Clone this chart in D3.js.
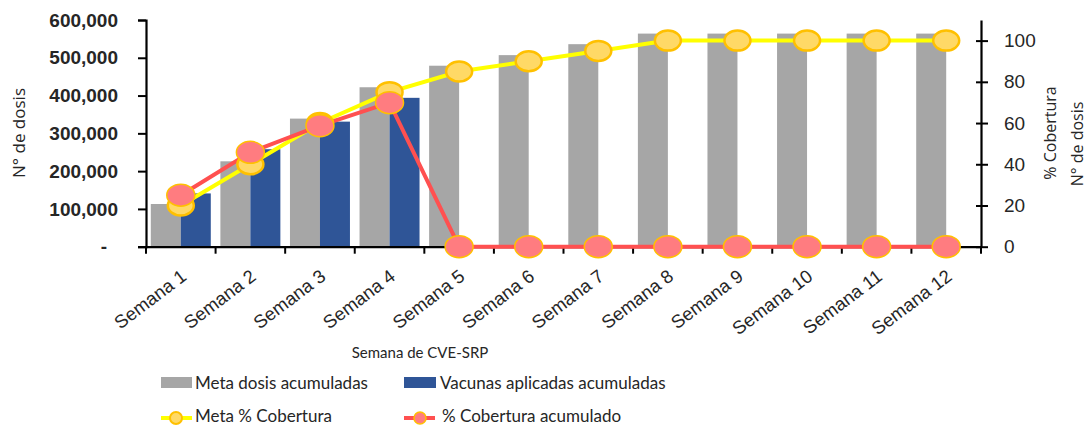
<!DOCTYPE html>
<html>
<head>
<meta charset="utf-8">
<script src="https://cdn.jsdelivr.net/npm/d3@7"></script>
<style>
  html, body { margin: 0; padding: 0; background: #fff; }
  svg { display: block; font-family: "Open Sans", "Noto Sans", sans-serif; }
</style>
</head>
<body>
<svg id="chart" width="1088" height="427"></svg>
<script>
// ---- data ----
const categories = ["Semana 1","Semana 2","Semana 3","Semana 4","Semana 5","Semana 6","Semana 7","Semana 8","Semana 9","Semana 10","Semana 11","Semana 12"];
const metaDosis = [113000, 226000, 339000, 422000, 479000, 507000, 536000, 564000, 564000, 564000, 564000, 564000];
const vacunasAplicadas = [141000, 258000, 331000, 394000, 0, 0, 0, 0, 0, 0, 0, 0];
const metaCobertura = [20, 40, 60, 75, 85, 90, 95, 100, 100, 100, 100, 100];
const coberturaAcum = [25, 45.8, 58.7, 69.9, 0, 0, 0, 0, 0, 0, 0, 0];
const leftTicks = [0, 100000, 200000, 300000, 400000, 500000, 600000];
const rightTicks = [0, 20, 40, 60, 80, 100];

// ---- layout ----
const svg = d3.select("#chart");
const L = 146, R = 981, T = 20, B = 246.7;
const textColor = "#262626";

const x = d3.scaleBand().domain(categories).range([L, R]).padding(0);
const xs = d3.scaleBand().domain(["meta", "vac"]).range([0, x.bandwidth()]).paddingOuter(0.16).paddingInner(0);
const yL = d3.scaleLinear().domain([0, 600000]).range([B, T]);
const yR = d3.scaleLinear().domain([0, 110]).range([B, T]);

// bars
const g = svg.append("g");
g.selectAll("rect.meta").data(metaDosis).join("rect")
  .attr("x", (d, i) => x(categories[i]) + xs("meta"))
  .attr("width", xs.bandwidth())
  .attr("y", d => yL(d))
  .attr("height", d => yL(0) - yL(d))
  .attr("fill", "#A6A6A6");
g.selectAll("rect.vac").data(vacunasAplicadas).join("rect")
  .attr("x", (d, i) => x(categories[i]) + xs("vac"))
  .attr("width", xs.bandwidth())
  .attr("y", d => yL(d))
  .attr("height", d => yL(0) - yL(d))
  .attr("fill", "#2F5597");

// axes
const fmtL = d => d === 0 ? "-" : d3.format(",")(d);
const axL = svg.append("g").attr("transform", `translate(${L},0)`)
  .call(d3.axisLeft(yL).tickValues(leftTicks).tickFormat(fmtL).tickSize(8).tickPadding(20));
axL.select(".domain").attr("stroke", "#000").attr("stroke-width", 2.2);
axL.selectAll(".tick line").attr("stroke", "#000").attr("stroke-width", 2);
axL.selectAll(".tick text").attr("fill", textColor).style("font-size", "19px").style("font-weight", "600")
  .attr("x", function(d) { return d === 0 ? -39 : -28; });

const axB = svg.append("g").attr("transform", `translate(0,${B})`)
  .call(d3.axisBottom(x).tickSize(0).tickSizeOuter(0));
axB.select(".domain").attr("stroke", "#000").attr("stroke-width", 2.2);
axB.selectAll(".tick line").remove();
// category boundary ticks
svg.append("g").selectAll("line").data(d3.range(categories.length + 1)).join("line")
  .attr("x1", i => L + i * x.step()).attr("x2", i => L + i * x.step())
  .attr("y1", B).attr("y2", B + 7)
  .attr("stroke", "#000").attr("stroke-width", 2);
axB.selectAll(".tick text")
  .attr("fill", textColor)
  .style("font-size", "18.5px")
  .attr("text-anchor", "end")
  .attr("y", 0)
  .attr("dy", "0.35em")
  .attr("transform", "translate(3,27) rotate(-37)");

const axR = svg.append("g").attr("transform", `translate(${R},0)`)
  .call(d3.axisRight(yR).tickValues(rightTicks).tickSize(7).tickPadding(16).tickSizeOuter(0));
axR.select(".domain").attr("stroke", "#000").attr("stroke-width", 2.2);
axR.selectAll(".tick line").attr("stroke", "#000").attr("stroke-width", 2).attr("x1", -5);
axR.selectAll(".tick text").attr("fill", textColor).style("font-size", "19px");

// lines
const cx = i => x(categories[i]) + x.bandwidth() / 2;
const lineY = d3.line().x((d, i) => cx(i)).y(d => yR(d));
svg.append("path").datum(metaCobertura).attr("d", lineY)
  .attr("fill", "none").attr("stroke", "#FFFF00").attr("stroke-width", 4);
svg.append("path").datum(coberturaAcum).attr("d", lineY)
  .attr("fill", "none").attr("stroke", "#FF5050").attr("stroke-width", 4);
svg.append("g").selectAll("ellipse").data(metaCobertura).join("ellipse")
  .attr("cx", (d, i) => cx(i)).attr("cy", d => yR(d))
  .attr("rx", 13).attr("ry", 10)
  .attr("fill", "#FFD966").attr("stroke", "#FFC000").attr("stroke-width", 2.5);
svg.append("g").selectAll("ellipse").data(coberturaAcum).join("ellipse")
  .attr("cx", (d, i) => cx(i)).attr("cy", d => yR(d))
  .attr("rx", 14).attr("ry", 11)
  .attr("fill", "#FF7C80").attr("stroke", "#FFC000").attr("stroke-width", 1.5);

// axis titles
svg.append("text").attr("x", 420).attr("y", 358).attr("text-anchor", "middle")
  .attr("fill", textColor).style("font-family", "Lato, 'Open Sans', sans-serif").style("font-size", "15px").text("Semana de CVE-SRP");
svg.append("text").attr("transform", "translate(25,133) rotate(-90)").attr("text-anchor", "middle")
  .attr("fill", textColor).style("font-size", "17px").text("N° de dosis");
svg.append("text").attr("transform", "translate(1056,133) rotate(-90)").attr("text-anchor", "middle")
  .attr("fill", textColor).style("font-size", "16px").text("% Cobertura");
svg.append("text").attr("transform", "translate(1083,144) rotate(-90)").attr("text-anchor", "middle")
  .attr("fill", textColor).style("font-size", "16px").text("N° de dosis");

// legend
const leg = svg.append("g").style("font-size", "17px").style("font-family", "Lato, 'Open Sans', sans-serif").attr("fill", textColor);
leg.append("rect").attr("x", 161).attr("y", 377).attr("width", 31).attr("height", 11).attr("fill", "#A6A6A6");
leg.append("text").attr("x", 195).attr("y", 389).text("Meta dosis acumuladas");
leg.append("rect").attr("x", 404).attr("y", 377).attr("width", 32).attr("height", 11).attr("fill", "#2F5597");
leg.append("text").attr("x", 440).attr("y", 389).text("Vacunas aplicadas acumuladas");
leg.append("line").attr("x1", 161).attr("x2", 192).attr("y1", 418).attr("y2", 418).attr("stroke", "#FFFF00").attr("stroke-width", 4);
leg.append("ellipse").attr("cx", 176).attr("cy", 418).attr("rx", 6).attr("ry", 6).attr("fill", "#FFD966").attr("stroke", "#FFC000").attr("stroke-width", 2);
leg.append("text").attr("x", 195).attr("y", 422).text("Meta % Cobertura");
leg.append("line").attr("x1", 404).attr("x2", 435).attr("y1", 418).attr("y2", 418).attr("stroke", "#FF5050").attr("stroke-width", 4);
leg.append("ellipse").attr("cx", 420).attr("cy", 418).attr("rx", 6).attr("ry", 6).attr("fill", "#FF7C80").attr("stroke", "#FFC000").attr("stroke-width", 1.5);
leg.append("text").attr("x", 442).attr("y", 422).text("% Cobertura acumulado");
</script>
</body>
</html>
